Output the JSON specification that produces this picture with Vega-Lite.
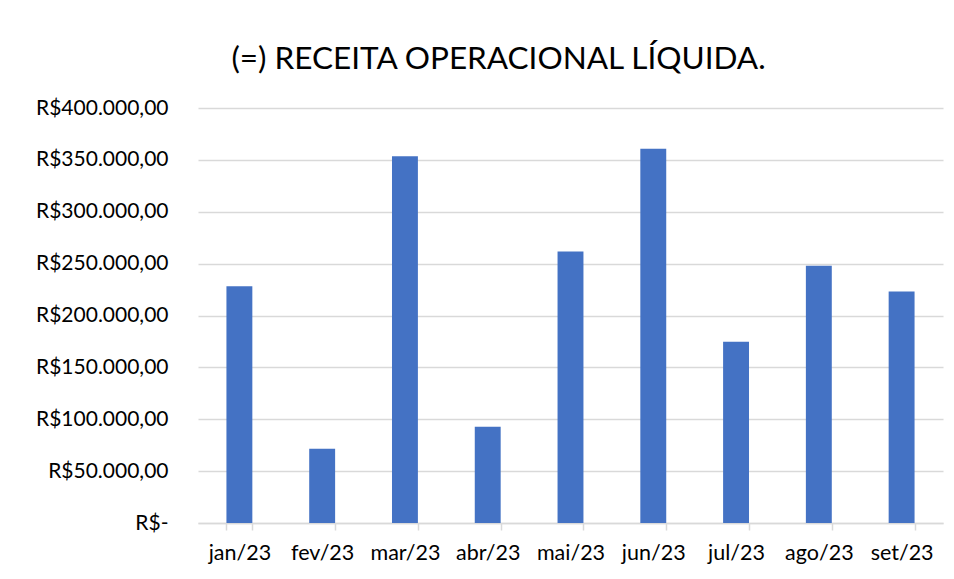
{
  "$schema": "https://vega.github.io/schema/vega-lite/v6.json",
  "autosize": {"type": "none"},
  "width": 745,
  "height": 415,
  "padding": {"left": 198, "top": 108, "right": 11, "bottom": 56},
  "background": "white",
  "title": {
    "text": "(=) RECEITA OPERACIONAL LÍQUIDA.",
    "font": "Lato",
    "fontSize": 31.5,
    "fontWeight": "normal",
    "color": "#000000",
    "anchor": "middle",
    "frame": "group",
    "dx": -72,
    "dy": 5,
    "baseline": "alphabetic",
    "offset": 2
  },
  "data": {
    "values": [
      {"mes": "jan/23", "valor": 228300},
      {"mes": "fev/23", "valor": 71500},
      {"mes": "mar/23", "valor": 353600},
      {"mes": "abr/23", "valor": 92700},
      {"mes": "mai/23", "valor": 261700},
      {"mes": "jun/23", "valor": 360700},
      {"mes": "jul/23", "valor": 174700},
      {"mes": "ago/23", "valor": 247900},
      {"mes": "set/23", "valor": 223200}
    ]
  },
  "mark": {"type": "bar", "color": "#4472C4"},
  "encoding": {
    "x": {
      "field": "mes",
      "type": "nominal",
      "sort": null,
      "title": null,
      "scale": {"paddingInner": 0.687, "paddingOuter": 0.3435},
      "axis": {
        "labelAngle": 0,
        "labelFont": "Lato",
        "labelFontSize": 21.5,
        "labelColor": "#000000",
        "labelPadding": 12,
        "domainColor": "#d9d9d9",
        "domainWidth": 1.5,
        "tickColor": "#d9d9d9",
        "tickWidth": 1.5,
        "tickSize": 7,
        "tickBand": "extent",
        "grid": false
      }
    },
    "y": {
      "field": "valor",
      "type": "quantitative",
      "title": null,
      "scale": {"domain": [0, 400000], "nice": false},
      "axis": {
        "values": [0, 50000, 100000, 150000, 200000, 250000, 300000, 350000, 400000],
        "labelExpr": "datum.value == 0 ? 'R$-' : 'R$' + replace(replace(format(datum.value, ',.2f'), '.', ','), ',', '.')",
        "labelFont": "Lato",
        "labelFontSize": 21,
        "labelColor": "#000000",
        "labelPadding": 30,
        "ticks": false,
        "domain": false,
        "grid": true,
        "gridColor": "#d9d9d9",
        "gridWidth": 1.5
      }
    }
  },
  "config": {
    "view": {"stroke": null}
  }
}
